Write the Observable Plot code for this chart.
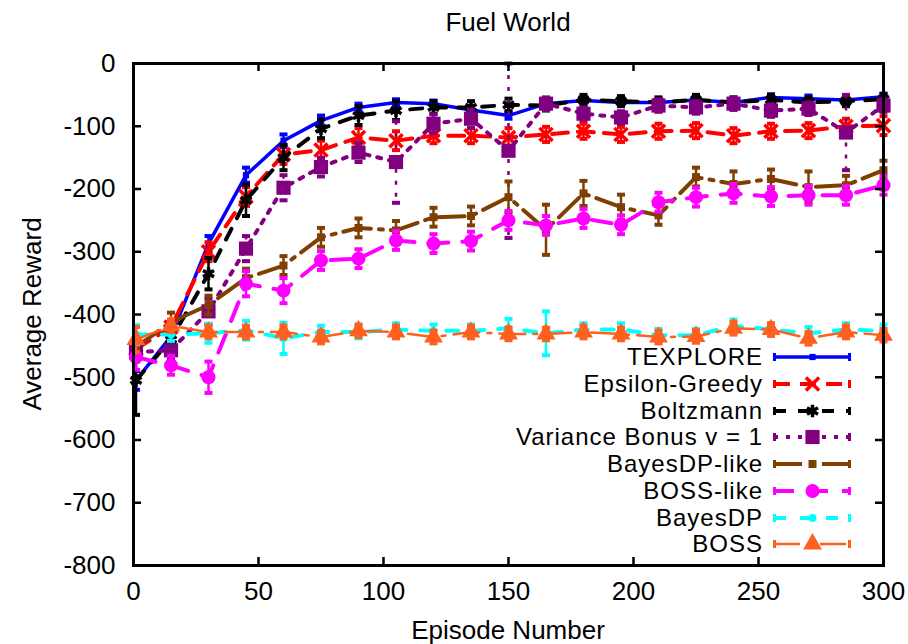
<!DOCTYPE html>
<html><head><meta charset="utf-8">
<script src="https://cdn.jsdelivr.net/npm/d3@7"></script>
<script src="https://cdn.jsdelivr.net/npm/@observablehq/plot@0.6"></script>
<style>
body{margin:0;background:#fff;font-family:"Liberation Sans",Arial,sans-serif;color:#000;}
#wrap{position:relative;width:908px;height:644px;overflow:hidden;}
.lbl{position:absolute;font-size:26px;line-height:26px;white-space:nowrap;}
#title{left:258px;width:500px;top:9px;text-align:center;font-size:26px;}
#xlabel{left:258px;width:500px;top:617px;text-align:center;}
#ylabel{left:-218px;width:500px;top:301px;text-align:center;transform:rotate(-90deg);}
.lrow{position:absolute;height:24px;}
.ltext{position:absolute;display:block;right:145px;font-size:24px;letter-spacing:1px;line-height:24px;height:24px;white-space:nowrap;}
.lsvg{position:absolute;left:773px;}
</style>
</head><body>
<div id="wrap"></div>
<script>
const episodes = [1,15,30,45,60,75,90,105,120,135,150,165,180,195,210,225,240,255,270,285,300];
const seriesNames = ["TEXPLORE","Epsilon-Greedy","Boltzmann","Variance Bonus v = 1","BayesDP-like","BOSS-like","BayesDP","BOSS"];
const texplore      = [-505,-435,-287,-178,-123,-91,-70,-62,-64,-74,-83,-64,-59,-62,-62,-58,-62,-54,-56,-58,-53];
const texploreErr   = [15,10,12,12,10,8,6,5,5,5,5,5,5,5,5,5,5,5,5,5,5];
const epsilonGreedy = [-455,-420,-300,-212,-145,-138,-118,-123,-115,-115,-118,-113,-108,-113,-108,-107,-115,-108,-107,-100,-99];
const epsilonErr    = [15,10,15,15,15,15,15,15,12,12,15,12,12,12,12,12,12,12,12,12,15];
const boltzmann     = [-505,-440,-335,-218,-150,-104,-83,-75,-70,-70,-66,-67,-58,-60,-62,-58,-62,-58,-62,-60,-57];
const boltzmannErr  = [55,15,25,25,20,15,15,15,10,10,10,8,8,8,8,8,8,8,8,8,8];
const varianceBonus = [-460,-457,-395,-295,-198,-165,-142,-157,-96,-88,-139,-64,-80,-86,-67,-70,-64,-75,-72,-110,-67];
const varianceErr   = [15,15,20,20,20,15,15,65,15,15,139,10,10,10,10,10,10,10,10,60,10];
const bayesDPLike   = [-452,-412,-385,-342,-322,-277,-262,-266,-245,-243,-213,-265,-207,-229,-242,-181,-192,-184,-197,-194,-170];
const bayesDPLikeErr= [15,15,15,15,15,15,15,15,15,15,25,40,20,20,15,15,20,15,25,15,15];
const bossLike      = [-468,-481,-500,-351,-362,-314,-311,-282,-287,-283,-250,-258,-247,-257,-221,-213,-207,-212,-210,-210,-194];
const bossLikeErr   = [20,15,25,20,20,15,15,15,15,15,15,15,15,15,15,15,15,15,15,15,15];
const bayesDP       = [-432,-432,-430,-425,-438,-428,-428,-424,-426,-426,-422,-430,-424,-424,-433,-433,-418,-424,-430,-424,-426];
const bayesDPErr    = [15,10,15,15,25,10,10,10,10,10,15,35,10,10,10,10,10,10,10,10,10];
const boss          = [-440,-418,-428,-428,-428,-436,-426,-428,-436,-428,-431,-431,-428,-431,-436,-435,-422,-424,-438,-428,-433];
const bossErr       = [20,10,10,10,10,10,10,10,10,10,10,10,10,10,10,10,10,10,10,10,10];
const xTicks = [0,50,100,150,200,250,300];
const yTicks = [0,-100,-200,-300,-400,-500,-600,-700,-800];

const styles = [
  {color:"#0000ff", dash:null,          width:3.5, symbol:"square",   r:3.5, filled:true,  errDash:null},
  {color:"#ff0000", dash:"16,10",       width:4,   symbol:"times",    r:6,   filled:false, errDash:null},
  {color:"#000000", dash:"12,12",       width:4,   symbol:"asterisk", r:6,   filled:false, errDash:null},
  {color:"#800080", dash:"4,8",         width:4,   symbol:"square",   r:8,   filled:true,  errDash:"4,8"},
  {color:"#7f3f00", dash:"28,8,4,8",    width:4,   symbol:"square",   r:4.5, filled:true,  errDash:null},
  {color:"#ff00ff", dash:"20,14",       width:4,   symbol:"circle",   r:7,   filled:true,  errDash:null},
  {color:"#00ffff", dash:"12,14",       width:4,   symbol:"circle",   r:4,   filled:true,  errDash:null},
  {color:"#ff5f1f", dash:"26,8,4,8",    width:2.5, symbol:"triangle", r:7,   filled:true,  errDash:null}
];
const values = [texplore,epsilonGreedy,boltzmann,varianceBonus,bayesDPLike,bossLike,bayesDP,boss];
const errs = [texploreErr,epsilonErr,boltzmannErr,varianceErr,bayesDPLikeErr,bossLikeErr,bayesDPErr,bossErr];

const cap = {draw(ctx, size){ const w = Math.sqrt(size/Math.PI); ctx.moveTo(-w,0); ctx.lineTo(w,0); }};

const marks = [];
seriesNames.forEach((name, k) => {
  const s = styles[k];
  const d = episodes.map((x,i)=>({x, y: values[k][i], e: errs[k][i]}));
  marks.push(Plot.ruleX(d, {x:"x", y1: v=>Math.min(0, v.y+v.e), y2: v=>v.y-v.e, stroke:s.color, strokeWidth:2.5, strokeDasharray:s.errDash}));
  marks.push(Plot.dot(d, {x:"x", y: v=>Math.min(0, v.y+v.e), symbol:cap, r:4, stroke:s.color, strokeWidth:4, fill:"none"}));
  marks.push(Plot.dot(d, {x:"x", y: v=>v.y-v.e, symbol:cap, r:4, stroke:s.color, strokeWidth:4, fill:"none"}));
  marks.push(Plot.line(d, {x:"x", y:"y", stroke:s.color, strokeWidth:s.width, strokeDasharray:s.dash}));
  if (s.filled) marks.push(Plot.dot(d, {x:"x", y:"y", symbol:s.symbol, r:s.r, fill:s.color, stroke:"none"}));
  else marks.push(Plot.dot(d, {x:"x", y:"y", symbol:s.symbol, r:s.r, stroke:s.color, strokeWidth:3.5, fill:"none"}));
});

const chart = Plot.plot({
  width: 908, height: 644,
  marginLeft: 133, marginRight: 25, marginTop: 63, marginBottom: 79,
  style: {fontFamily: "'Liberation Sans', Arial, sans-serif", fontSize: "26px", background: "white"},
  x: {domain: [0,300]},
  y: {domain: [-800,0]},
  marks: [
    ...marks,
    Plot.axisY(yTicks, {tickSize:0, tickPadding:18, fontSize:26, label:null, tickFormat: d => String(d)}),
    Plot.axisX(xTicks, {tickSize:0, tickPadding:16, fontSize:26, label:null, tickFormat: d => String(d)}),
    Plot.tickY(yTicks, {y:d=>d, insetRight:742, stroke:"black", strokeWidth:2.5}),
    Plot.tickY(yTicks, {y:d=>d, insetLeft:742, stroke:"black", strokeWidth:2.5}),
    Plot.tickX(xTicks, {x:d=>d, insetTop:494, stroke:"black", strokeWidth:2.5}),
    Plot.tickX(xTicks, {x:d=>d, insetBottom:494, stroke:"black", strokeWidth:2.5}),
    Plot.frame({stroke:"black", strokeWidth:3})
  ]
});
const wrap = document.getElementById("wrap");
chart.style.position = "absolute"; chart.style.left = "0"; chart.style.top = "0";
wrap.appendChild(chart);

function addLabel(id, text){ const el=document.createElement("div"); el.id=id; el.className="lbl"; el.textContent=text; wrap.appendChild(el); }
addLabel("title","Fuel World");
addLabel("xlabel","Episode Number");
addLabel("ylabel","Average Reward");

// legend
const NS = "http://www.w3.org/2000/svg";
seriesNames.forEach((name,k)=>{
  const s = styles[k];
  const cy = 357 + k*26.75;
  const row = document.createElement("div");
  row.className = "lrow"; row.style.top = (cy-12)+"px"; row.style.left="0"; row.style.width="908px";
  const t = document.createElement("span"); t.className="ltext"; t.style.top="0"; t.textContent=name; row.appendChild(t);
  const svg = document.createElementNS(NS,"svg"); svg.setAttribute("class","lsvg"); svg.setAttribute("width","80"); svg.setAttribute("height","24");
  svg.style.top="0";
  const ln = document.createElementNS(NS,"line");
  ln.setAttribute("x1","1"); ln.setAttribute("x2","78"); ln.setAttribute("y1","12"); ln.setAttribute("y2","12");
  ln.setAttribute("stroke",s.color); ln.setAttribute("stroke-width",s.width); if(s.dash) ln.setAttribute("stroke-dasharray",s.dash);
  svg.appendChild(ln);
  [1.5,76.5].forEach(xx=>{ const c=document.createElementNS(NS,"line"); c.setAttribute("x1",xx); c.setAttribute("x2",xx); c.setAttribute("y1","8"); c.setAttribute("y2","16"); c.setAttribute("stroke",s.color); c.setAttribute("stroke-width","3"); svg.appendChild(c); });
  const sym = d3.symbol().type({square:d3.symbolSquare,circle:d3.symbolCircle,triangle:d3.symbolTriangle,times:d3.symbolTimes,asterisk:d3.symbolAsterisk}[s.symbol]).size(Math.PI*s.r*s.r);
  const p = document.createElementNS(NS,"path"); p.setAttribute("d", sym()); p.setAttribute("transform","translate(39.5,12)");
  if (s.filled){ p.setAttribute("fill",s.color); } else { p.setAttribute("fill","none"); p.setAttribute("stroke",s.color); p.setAttribute("stroke-width","3.5"); }
  svg.appendChild(p);
  row.appendChild(svg);
  wrap.appendChild(row);
});
</script>
</body></html>
